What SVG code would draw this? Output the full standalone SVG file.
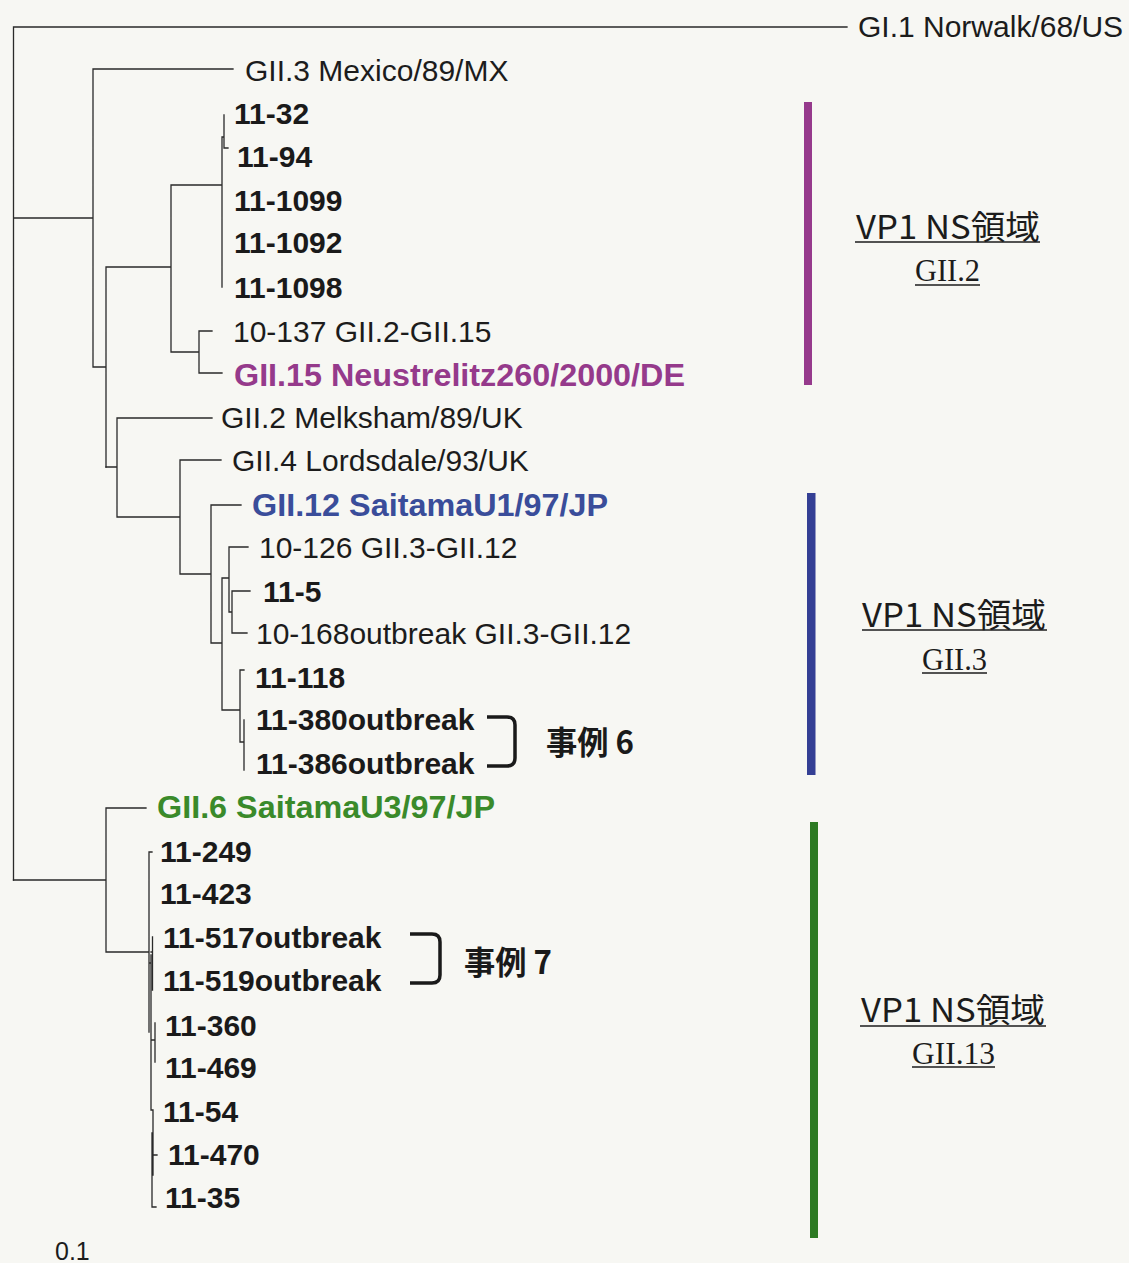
<svg xmlns="http://www.w3.org/2000/svg" width="1129" height="1263" viewBox="0 0 1129 1263">
<style>
.br{fill:none;stroke:#2a2a2a;stroke-width:1.3;stroke-linecap:square}
.reg{font-family:"Liberation Sans",Arial,sans-serif;font-size:30px;fill:#1c1c1c}
.bold{font-family:"Liberation Sans",Arial,sans-serif;font-size:30px;font-weight:bold;fill:#1a1a1a}
.col{font-family:"Liberation Sans",Arial,sans-serif;font-size:31px;font-weight:bold}
.vp{font-family:"Noto Sans CJK JP","Noto Sans",sans-serif;font-size:33px;fill:#1c1c1c}
.gt{font-family:"Liberation Serif","Times New Roman",serif;font-size:32px;fill:#1c1c1c}
.ul{stroke:#1c1c1c;stroke-width:1.6}
.case{font-family:"Noto Sans CJK JP","Noto Sans",sans-serif;font-size:32px;font-weight:bold;fill:#1a1a1a}
.bk{fill:none;stroke:#1a1a1a;stroke-width:3.5;stroke-linecap:butt}
</style>
<rect width="1129" height="1263" fill="#f7f7f3"/>
<g id="connectors">
<path class="br" d="M13.5,27 V880 M13.5,27 H847 M13.5,218 H93 M93,69 V367 M93,69 H233 M93,367 H106 M106,267 V467 M106,267 H171 M171,185 V352 M171,185 H222 M222,137 V287 M224,115 V148 M222,137 H224 M224,148 H228 M171,352 H199 M199,331 V373 M199,331 H212 M199,373 H222"/>
<path class="br" d="M106,467 H117 M117,418 V517 M117,418 H212 M117,517 H180 M180,460 V574 M180,460 H221 M180,574 H211 M211,505 V643 M211,505 H241 M211,643 H222 M222,578 V710 M222,578 H229 M229,547 V612 M229,547 H248 M229,612 H232 M232,591 V633 M232,591 H250 M232,633 H247 M222,710 H240 M240,670 V742 M240,670 H244 M240,742 H244 M244,720 V770"/>
<path class="br" d="M13.5,880 H106 M106,808 V952 M106,808 H146 M106,952 H148 M149,852 V1032 M149,852 H152 M151,955 V1110 M149,963 H151 M152.5,937 V990 M151,952 H152.5 M151,1040 H155 M155,1023 V1062 M151,1110 H153 M153,1110 V1175 M152,1133 V1207 H156 M152,1155 H157"/>
</g>
<g id="leaf-gi1"><text class="reg" x="858" y="37">GI.1 Norwalk/68/US</text></g>
<g id="leaf-gii3-mexico"><text class="reg" x="245" y="81">GII.3 Mexico/89/MX</text></g>
<g id="leaf-11-32"><text class="bold" x="234" y="124">11-32</text></g>
<g id="leaf-11-94"><text class="bold" x="237" y="167">11-94</text></g>
<g id="leaf-11-1099"><text class="bold" x="234" y="211">11-1099</text></g>
<g id="leaf-11-1092"><text class="bold" x="234" y="253">11-1092</text></g>
<g id="leaf-11-1098"><text class="bold" x="234" y="298">11-1098</text></g>
<g id="leaf-10-137"><text class="reg" x="233" y="342">10-137 GII.2-GII.15</text></g>
<g id="leaf-gii15"><text class="col" x="234" y="386" fill="#953a8b" textLength="451" lengthAdjust="spacingAndGlyphs">GII.15 Neustrelitz260/2000/DE</text></g>
<g id="leaf-gii2-melksham"><text class="reg" x="221" y="428">GII.2 Melksham/89/UK</text></g>
<g id="leaf-gii4"><text class="reg" x="232" y="471">GII.4 Lordsdale/93/UK</text></g>
<g id="leaf-gii12"><text class="col" x="252" y="516" fill="#3a4d9a" textLength="356" lengthAdjust="spacingAndGlyphs">GII.12 SaitamaU1/97/JP</text></g>
<g id="leaf-10-126"><text class="reg" x="259" y="558">10-126 GII.3-GII.12</text></g>
<g id="leaf-11-5"><text class="bold" x="263" y="602">11-5</text></g>
<g id="leaf-10-168"><text class="reg" x="256" y="644">10-168outbreak GII.3-GII.12</text></g>
<g id="leaf-11-118"><text class="bold" x="255" y="688">11-118</text></g>
<g id="leaf-11-380"><text class="bold" x="256" y="730">11-380outbreak</text></g>
<g id="leaf-11-386"><text class="bold" x="256" y="774">11-386outbreak</text></g>
<g id="leaf-gii6"><text class="col" x="157" y="818" fill="#3a8a2a" textLength="338" lengthAdjust="spacingAndGlyphs">GII.6 SaitamaU3/97/JP</text></g>
<g id="leaf-11-249"><text class="bold" x="160" y="862">11-249</text></g>
<g id="leaf-11-423"><text class="bold" x="160" y="904">11-423</text></g>
<g id="leaf-11-517"><text class="bold" x="163" y="948">11-517outbreak</text></g>
<g id="leaf-11-519"><text class="bold" x="163" y="991">11-519outbreak</text></g>
<g id="leaf-11-360"><text class="bold" x="165" y="1036">11-360</text></g>
<g id="leaf-11-469"><text class="bold" x="165" y="1078">11-469</text></g>
<g id="leaf-11-54"><text class="bold" x="163" y="1122">11-54</text></g>
<g id="leaf-11-470"><text class="bold" x="168" y="1165">11-470</text></g>
<g id="leaf-11-35"><text class="bold" x="165" y="1208">11-35</text></g>
<g id="scale"><text class="reg" x="55" y="1260" style="font-size:25px">0.1</text></g>
<g id="case6">
<path class="bk" d="M487,717 H507 Q515,717 515,725 V758 Q515,766 507,766 H487"/>
<text class="case" x="546" y="754" textLength="88" lengthAdjust="spacingAndGlyphs">事例 6</text>
</g>
<g id="case7">
<path class="bk" d="M410,934 H432 Q440,934 440,942 V975 Q440,983 432,983 H410"/>
<text class="case" x="464" y="974" textLength="88" lengthAdjust="spacingAndGlyphs">事例 7</text>
</g>
<g id="clade-gii2">
<rect x="804" y="102" width="8" height="283" fill="#963a8c"/>
<text class="vp" x="856" y="239" textLength="184" lengthAdjust="spacingAndGlyphs">VP1 NS領域</text>
<line class="ul" x1="855" y1="242" x2="1040" y2="242"/>
<text class="gt" x="915" y="281" textLength="65" lengthAdjust="spacingAndGlyphs">GII.2</text>
<line class="ul" x1="915" y1="285" x2="980" y2="285"/>
</g>
<g id="clade-gii3">
<rect x="807" y="493" width="8.5" height="282" fill="#343f94"/>
<text class="vp" x="862" y="627" textLength="184" lengthAdjust="spacingAndGlyphs">VP1 NS領域</text>
<line class="ul" x1="862" y1="630" x2="1047" y2="630"/>
<text class="gt" x="922" y="670" textLength="65" lengthAdjust="spacingAndGlyphs">GII.3</text>
<line class="ul" x1="922" y1="673" x2="987" y2="673"/>
</g>
<g id="clade-gii13">
<rect x="810" y="822" width="8" height="416" fill="#2d7a23"/>
<text class="vp" x="861" y="1022" textLength="184" lengthAdjust="spacingAndGlyphs">VP1 NS領域</text>
<line class="ul" x1="860" y1="1026" x2="1046" y2="1026"/>
<text class="gt" x="912" y="1064" textLength="83" lengthAdjust="spacingAndGlyphs">GII.13</text>
<line class="ul" x1="912" y1="1067" x2="995" y2="1067"/>
</g>
</svg>
